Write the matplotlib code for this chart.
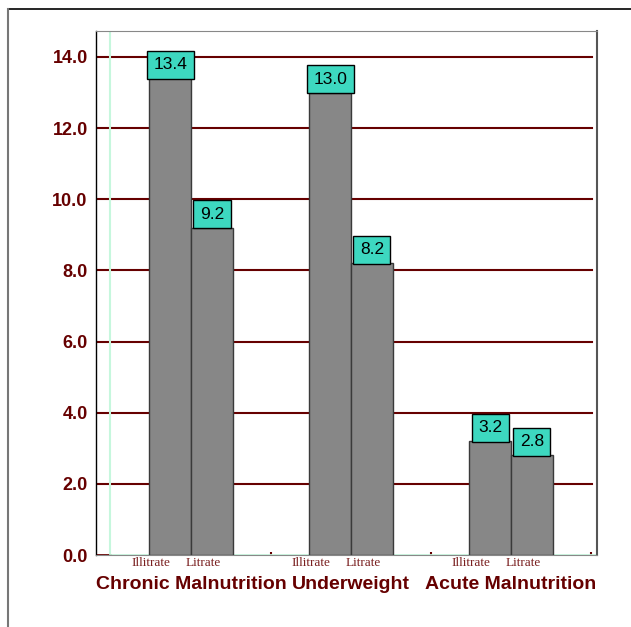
import numpy as np
import matplotlib
matplotlib.use('Agg')
import matplotlib.pyplot as plt
from matplotlib.lines import Line2D

plt.rcParams['font.family'] = ['Liberation Sans', 'DejaVu Sans']

# 데이터
categories = ['Chronic Malnutrition', 'Underweight', 'Acute Malnutrition']
groups = ['Illitrate', 'Litrate']
illiterate = [13.4, 13.0, 3.2]
literate = [9.2, 8.2, 2.8]
yticks = [0, 2, 4, 6, 8, 10, 12, 14]

maroon = '#660000'
green = '#c6f7dd'

fig = plt.figure(figsize=(6.31, 6.27), dpi=100)
ax = fig.add_axes([96 / 631, 1 - 555 / 627, 501 / 631, 524 / 627])

x = np.arange(len(categories))
w = 0.26
bars1 = ax.bar(x - w, illiterate, w, align='edge', color='#878787',
               edgecolor='#3a3a3a', linewidth=1, zorder=3)
bars2 = ax.bar(x, literate, w, align='edge', color='#878787',
               edgecolor='#3a3a3a', linewidth=1, zorder=3)

ax.set_xlim(-0.594, 2.5375)
ax.set_ylim(0, 14.73)

# 가로 격자선
for t in yticks[1:]:
    ax.axhline(t, xmin=0, xmax=0.99, color=maroon, lw=1.5, zorder=1)
ax.axhline(0, xmin=0, xmax=14 / 501, color=maroon, lw=2, zorder=2)
ax.axvline(-0.506, color=green, lw=1.5, zorder=1)
ax.axhline(0, xmin=14 / 501, xmax=1, color=green, lw=2, zorder=2)

# 값 라벨
for bars, vals in [(bars1, illiterate), (bars2, literate)]:
    for b, v in zip(bars, vals):
        ax.annotate(f'{v:.1f}', (b.get_x() + b.get_width() / 2, v),
                    xytext=(0, 6), textcoords='offset pixels',
                    ha='center', va='bottom', fontsize=12.5, color='black',
                    zorder=5,
                    bbox=dict(boxstyle='square,pad=0.38', fc='#3dd8c0',
                              ec='black', lw=1))

# 하위 라벨 (Illitrate / Litrate)
offsets = [-0.25, 0.075]
for i in range(len(categories)):
    for g, off in zip(groups, offsets):
        ax.annotate(g, (x[i] + off, 0), xycoords=('data', 'axes fraction'),
                    xytext=(0, -8), textcoords='offset pixels',
                    ha='center', va='center', fontsize=9.5,
                    family='Liberation Serif', color='#7a2020')

ax.set_yticks(yticks)
ax.set_yticklabels([f'{t:.1f}' for t in yticks], color=maroon,
                   fontweight='bold', fontsize=13)
ax.tick_params(axis='y', length=0, pad=6)

ax.set_xticks(x)
ax.set_xticklabels(categories, color=maroon, fontweight='bold', fontsize=14)
ax.tick_params(axis='x', which='major', length=0, pad=15)
ax.set_xticks([0.5, 1.5, 2.5], minor=True)
ax.tick_params(axis='x', which='minor', length=2, width=1.5,
               direction='in', color=maroon)

ax.spines['left'].set_color('black')
ax.spines['left'].set_linewidth(1)
ax.spines['top'].set_color('#888888')
ax.spines['bottom'].set_color('#888888')
ax.spines['right'].set_color('#555555')
ax.spines['right'].set_linewidth(1.5)

# 바깥 테두리
fig.add_artist(Line2D([8 / 631, 1], [1 - 9 / 627, 1 - 9 / 627],
                      color='black', lw=1.2))
fig.add_artist(Line2D([8 / 631, 8 / 631], [0, 1 - 9 / 627],
                      color='#777777', lw=1.5))

fig.savefig('out.png', dpi=100)
